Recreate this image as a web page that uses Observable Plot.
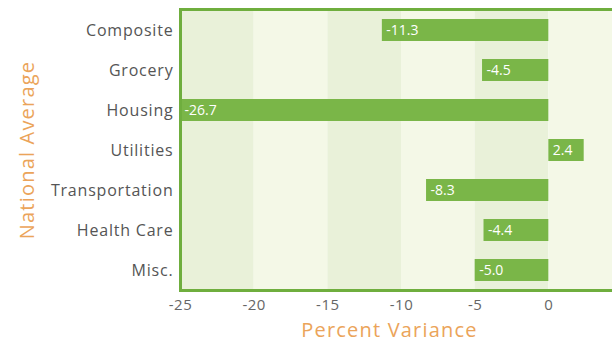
<!DOCTYPE html>
<html><head><meta charset="utf-8">
<script src="https://cdn.jsdelivr.net/npm/d3@7"></script>
<script src="https://cdn.jsdelivr.net/npm/@observablehq/plot@0.6"></script>
<style>html,body{margin:0;padding:0;background:#fff;overflow:hidden;width:612px;height:343px}
#chart svg{max-width:none !important}
#chart g[aria-label="y-axis tick label"] text{letter-spacing:0.8px}
#chart g[aria-label="x-axis tick label"] text{letter-spacing:0.5px}</style>
</head><body><div id="chart"></div>
<script>
const categories = ["Composite","Grocery","Housing","Utilities","Transportation","Health Care","Misc."];
const variance = [-11.3,-4.5,-26.7,2.4,-8.3,-4.4,-5.0];
const xTicks = [-25,-20,-15,-10,-5,0,5];
const xTitle = "Percent Variance";
const yTitle = "National Average";

const data = categories.map((c,i)=>({category:c, value:variance[i]}));
const stripes = xTicks.slice(0,-1).map((t,i)=>({x1:t, x2:xTicks[i+1], shade:i%2}));

const green = "#6fae3e";
const barGreen = "#7ab648";
const orange = "#eba45a";

const chart = Plot.plot({
  width: 630, height: 343,
  marginTop: 9, marginBottom: 53, marginLeft: 180, marginRight: 8,
  style: {fontFamily: "'Open Sans', sans-serif", background: "#fff", maxWidth: "none"},
  x: {domain: [-25, 5]},
  y: {domain: categories, paddingInner: 0.46, paddingOuter: 0.23},
  marks: [
    Plot.rectX(stripes, {x1: "x1", x2: "x2", fill: d => d.shade ? "#f4f8e7" : "#e9f1d9"}),
    Plot.barX(data, {x: "value", y: "category", fill: barGreen, clip: true}),
    Plot.text(data, {
      x: d => Math.max(Math.min(d.value, 0), -25), y: "category",
      text: d => d.value.toFixed(1), textAnchor: "start", dx: 4,
      fill: "#fff", fontSize: 14
    }),
    Plot.axisX({ticks: xTicks, tickSize: 0, tickPadding: 9, fontSize: 15, color: "#666", label: null, tickFormat: d => String(d)}),
    Plot.axisY({tickSize: 0, tickPadding: 7, fontSize: 16, color: "#555", label: null}),
    Plot.frame({stroke: green, strokeWidth: 3}),
    Plot.text([xTitle], {frameAnchor: "bottom", dy: 46, dx: -12, fill: orange, fontSize: 20}),
    Plot.text([yTitle], {frameAnchor: "left", textAnchor: "middle", rotate: -90, dx: -153, fill: orange, fontSize: 20})
  ]
});
chart.style.maxWidth = "none";
d3.select(chart).selectAll("text")
  .filter(function() { return this.textContent === xTitle || this.textContent === yTitle; })
  .style("letter-spacing", "1.2px");
document.getElementById("chart").appendChild(chart);
</script>
</body></html>
